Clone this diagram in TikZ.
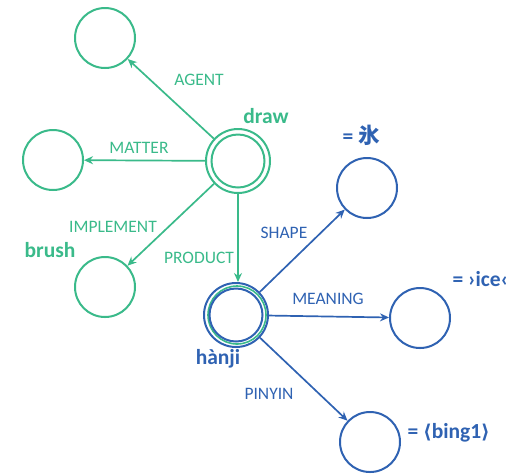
\documentclass[tikz,border=0pt]{standalone}
\usepackage{fontspec}
\setmainfont{Carlito}
\newfontfamily\cjk{Noto Sans CJK JP}
\newfontfamily\djv{DejaVu Sans}
\usetikzlibrary{arrows.meta}
\definecolor{gr}{RGB}{58,186,138}
\definecolor{bl}{RGB}{47,98,178}
\begin{document}
\begin{tikzpicture}[x=1pt,y=-1pt,
  circ/.style={circle,draw,line width=2pt,minimum size=60pt,inner sep=0pt},
  lab/.style={font=\fontsize{17.5}{17.5}\selectfont},
  big/.style={font=\fontsize{21.5}{21.5}\selectfont\bfseries},
  arr/.style={line width=1.7pt,-{Stealth[length=9pt,width=8pt]}}]
\useasboundingbox (0,0) rectangle (510,475);
% green part
\node[circ,draw=gr,minimum size=64pt] (draw) at (238,161) {};
\node[circ,draw=gr,minimum size=53pt] (drawin) at (238,161) {};
\node[circ,draw=gr] (agent) at (105,38) {};
\node[circ,draw=gr] (matter) at (53,160) {};
\node[circ,draw=gr] (brushc) at (105,287) {};
% hanji
\node[circ,draw=bl,minimum size=64pt] (hanji) at (236,315) {};
\node[circ,draw=gr,minimum size=58pt,line width=1.6pt] (hanjimid) at (237,315) {};
\node[circ,draw=bl,minimum size=53pt] (hanjiin) at (236,315) {};
\node[circ,draw=bl] (shape) at (367,188) {};
\node[circ,draw=bl] (meaning) at (420,318) {};
\node[circ,draw=bl] (pinyin) at (370,442) {};
% arrows
\draw[arr,gr] (draw) -- (agent);
\draw[arr,gr] (draw) -- (matter);
\draw[arr,gr] (draw) -- (brushc);
\draw[arr,gr] (draw.south) -- (hanji.north -| draw.south);
\draw[arr,bl] (hanji) -- (shape);
\draw[arr,bl] (hanji) -- (meaning);
\draw[arr,bl] (hanji) -- (pinyin);
% labels
\node[lab,text=gr] (l1) at (199,80) {AGENT};
\node[lab,text=gr] (l2) at (139,148) {MATTER};
\node[lab,text=gr] (l3) at (113,227) {IMPLEMENT};
\node[lab,text=gr] (l4) at (199,258) {PRODUCT};
\node[lab,text=bl] (l5) at (284,233) {SHAPE};
\node[lab,text=bl] (l6) at (328,299) {MEANING};
\node[lab,text=bl] (l7) at (269,394) {PINYIN};
\node[big,text=gr] (t1) at (266,116) {draw};
\node[big,text=gr] (t2) at (50,250) {brush};
\node[big,text=bl] (t3) at (218,359) {hànji};
\node[big,text=bl,anchor=west] (t4) at (339,135) {= {\cjk\bfseries 氷}};
\node[big,text=bl,anchor=west] (t5) at (449,279) {= ›ice‹};
\node[big,text=bl,anchor=west] (t6) at (404,433) {= {\djv\bfseries\fontsize{19}{19}\selectfont ⟨}bing1{\djv\bfseries\fontsize{19}{19}\selectfont ⟩}};
\end{tikzpicture}
\end{document}
